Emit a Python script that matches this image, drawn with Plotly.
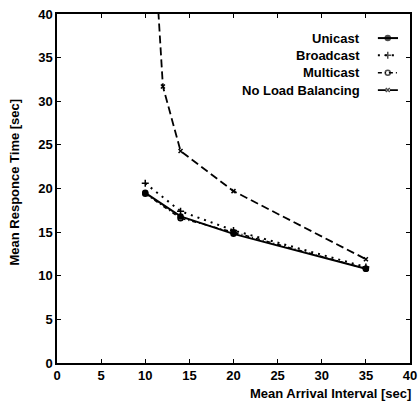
import plotly.graph_objects as go

# ---- data ----
series_names = ["Unicast", "Broadcast", "Multicast", "No Load Balancing"]
x_unicast = [10, 14, 20, 35]
y_unicast = [19.5, 16.8, 14.8, 10.8]
x_broadcast = [10, 14, 20, 35]
y_broadcast = [20.6, 17.4, 15.2, 11.0]
x_multicast = [10, 14, 20, 35]
y_multicast = [19.4, 16.6, 15.0, 10.8]
x_noload = [10, 12, 14, 20, 35]
y_noload = [65.0, 31.7, 24.3, 19.7, 11.9]
x_ticks = [0, 5, 10, 15, 20, 25, 30, 35, 40]
y_ticks = [0, 5, 10, 15, 20, 25, 30, 35, 40]

FONT = "Liberation Sans"
FS = 13
styles = [
    dict(dash="solid", width=2.0, symbol="circle", msize=5),
    dict(dash="2px,5px", width=2.0, symbol="cross-thin", msize=5),
    dict(dash="4px,3px,1px,3px", width=1.5, symbol="circle-open", msize=5),
    dict(dash="8px,4px", width=1.8, symbol="x-thin", msize=4),
]
xs = [x_unicast, x_broadcast, x_multicast, x_noload]
ys = [y_unicast, y_broadcast, y_multicast, y_noload]

fig = go.Figure()
for name, x, y, st in zip(series_names, xs, ys, styles):
    fig.add_trace(go.Scatter(
        x=x, y=y, name=name, mode="lines+markers",
        line=dict(color="black", width=st["width"], dash=st["dash"]),
        marker=dict(color="black", size=st["msize"], symbol=st["symbol"],
                    line=dict(color="black", width=1.5)),
        showlegend=False,
    ))

# custom legend: text on left, sample on right
row_y = [0.931, 0.882, 0.832, 0.782]
for name, ry, st in zip(series_names, row_y, styles):
    fig.add_trace(go.Scatter(
        x=[0.909, 0.937, 0.966], y=[ry, ry, ry], mode="lines+markers",
        xaxis="x2", yaxis="y2", showlegend=False, hoverinfo="skip",
        line=dict(color="black", width=st["width"], dash=st["dash"]),
        marker=dict(color="black", size=[0, st["msize"], 0], symbol=st["symbol"],
                    line=dict(color="black", width=1.5)),
    ))
    fig.add_annotation(x=0.864, y=ry, xref="paper", yref="paper", text=name,
                       showarrow=False, xanchor="right", yanchor="middle",
                       font=dict(family=FONT, size=FS, color="black", weight="bold"))

axis_common = dict(
    showgrid=False, zeroline=False, showline=True, linecolor="black", linewidth=1.5,
    mirror="ticks", ticks="inside", ticklen=4, tickwidth=1.2, tickcolor="black",
    automargin=False,
    tickfont=dict(family=FONT, size=FS, color="black", weight="bold"),
)
fig.update_layout(
    template="none",
    width=420, height=401, autosize=False,
    margin=dict(l=57, r=10, t=14, b=38),
    paper_bgcolor="white", plot_bgcolor="white",
    xaxis=dict(range=[0, 40], tickvals=x_ticks, **axis_common),
    yaxis=dict(range=[0, 40], tickvals=y_ticks, **axis_common),
    xaxis2=dict(range=[0, 1], overlaying="x", visible=False, fixedrange=True),
    yaxis2=dict(range=[0, 1], overlaying="y", visible=False, fixedrange=True),
    showlegend=False,
)
fig.add_annotation(x=1.008, y=-0.087, xref="paper", yref="paper",
                   text="Mean Arrival Interval [sec]", showarrow=False,
                   xanchor="right", yanchor="middle",
                   font=dict(family=FONT, size=FS, color="black", weight="bold"))
fig.add_annotation(x=-0.119, y=0.52, xref="paper", yref="paper",
                   text="Mean Responce Time [sec]", showarrow=False, textangle=-90,
                   xanchor="center", yanchor="middle",
                   font=dict(family=FONT, size=FS, color="black", weight="bold"))

fig.write_html(
    "out.html",
    config={"displayModeBar": False, "responsive": False},
    post_script=("document.body.style.margin='0px';"
                 "document.body.style.overflow='hidden';"
                 "Plotly.relayout('{plot_id}', {width: 420, height: 401});"),
)
